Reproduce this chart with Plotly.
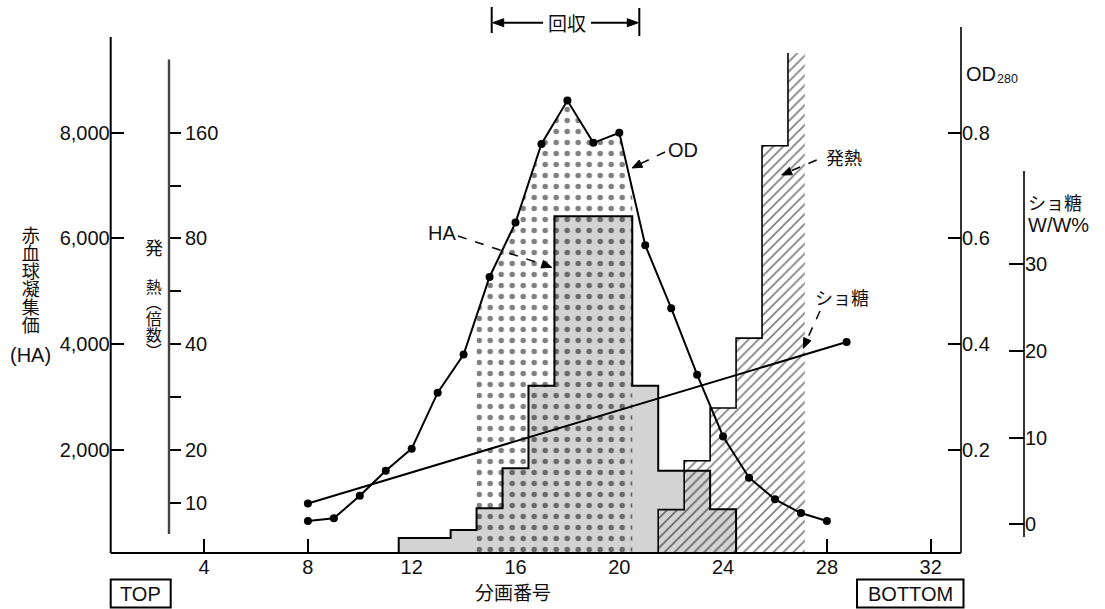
import math
import numpy as np
import plotly.graph_objects as go

W, H = 1105, 609

# ---------------- data ----------------
fractions_od = list(range(8, 29))
od280 = [0.065, 0.070, 0.113, 0.160, 0.202, 0.308, 0.380, 0.527, 0.630, 0.779,
         0.861, 0.781, 0.800, 0.587, 0.468, 0.342, 0.225, 0.147, 0.106, 0.080, 0.065]

fractions_ha = list(range(12, 25))
ha_titer = [330, 330, 480, 890, 1650, 3210, 6420, 6420, 6420, 3210, 1600, 1600, 870]

fractions_heat = [22, 23, 24, 25, 26, 27]
heat_fold = [13.5, 18.6, 26.3, 41.6, 147, 270]
heat_last_edge = 27.15          # last (off-scale) bin is cut short

sucrose_frac = [8, 28.76]
sucrose_pct = [2.4, 21.0]

recovery = [14.5, 20.5]         # pooled ("回収") fractions

x_ticks = [4, 8, 12, 16, 20, 24, 28, 32]
ha_ticks = [2000, 4000, 6000, 8000]
od_ticks = [0.2, 0.4, 0.6, 0.8]
suc_ticks = [0, 10, 20, 30]
sq2 = math.sqrt(2)
heat_tick_vals = [10 * sq2, 20, 40, 80, 160]
heat_tick_text = ['10', '20', '40', '80', '160']
heat_minor_vals = [20 * sq2, 40 * sq2, 80 * sq2]

LAT = "Liberation Sans, Arial, Helvetica, sans-serif"
CJK = "Noto Sans CJK JP, Noto Sans, sans-serif"
INK = "#111111"

HA_TITLE = "赤血球凝集価"
HEAT_TITLE = "熱（倍数）"


def px(x):
    return x / W


def py(y):
    return 1 - y / H


fig = go.Figure()

# HA step histogram (grey stipple)
ha_x = [fractions_ha[0] - 0.5]
ha_y = [0]
for f, v in zip(fractions_ha, ha_titer):
    ha_x += [f - 0.5, f + 0.5]
    ha_y += [v, v]
ha_x += [fractions_ha[-1] + 0.5]
ha_y += [0]
fig.add_trace(go.Scatter(x=ha_x, y=ha_y, mode='lines', yaxis='y',
                         line=dict(color='black', width=2),
                         fill='toself', fillcolor='#d3d3d3', hoverinfo='skip'))

# Heat (発熱) hatched steps
heat_left = [f - 0.5 for f in fractions_heat]
heat_right = heat_left[1:] + [heat_last_edge]
hx = [heat_left[0]]
hy = [1]
for l, r, v in zip(heat_left, heat_right, heat_fold):
    hx += [l, r]
    hy += [v, v]
hx += [heat_right[-1]]
hy += [1]
fig.add_trace(go.Scatter(x=hx, y=hy, mode='none', yaxis='y3', fill='toself',
                         fillcolor='rgba(0,0,0,0)',
                         fillpattern=dict(shape='/', fgcolor='black', size=7, solidity=0.24),
                         hoverinfo='skip'))
fig.add_trace(go.Scatter(x=hx[:-2], y=hy[:-2], mode='lines', yaxis='y3',
                         line=dict(color='black', width=1.6), hoverinfo='skip'))

# OD dotted region over the recovered fractions
rx = [recovery[0]] + [f for f in fractions_od if recovery[0] < f < recovery[1]] + [recovery[1]]
ry = list(np.interp(rx, fractions_od, od280))
fig.add_trace(go.Scatter(x=rx, y=ry, mode='none', yaxis='y2', fill='tozeroy',
                         fillcolor='rgba(0,0,0,0)',
                         fillpattern=dict(shape='.', fgcolor='black', size=11, solidity=0.2),
                         hoverinfo='skip'))

# sucrose gradient
fig.add_trace(go.Scatter(x=sucrose_frac, y=sucrose_pct, mode='lines+markers', yaxis='y4',
                         line=dict(color='black', width=2),
                         marker=dict(color='black', size=8)))

# OD280 curve
fig.add_trace(go.Scatter(x=fractions_od, y=od280, mode='lines+markers', yaxis='y2',
                         line=dict(color='black', width=2),
                         marker=dict(color='black', size=8)))

tickfont = dict(family=LAT, size=20, color=INK)
common = dict(showgrid=False, zeroline=False, showline=False, fixedrange=True,
              automargin=False, tickcolor='black', tickwidth=1.6, tickfont=tickfont)

shapes = []


def seg(x0, y0, x1, y1, w=1.5, dash=None, color='black'):
    d = dict(type='line', xref='paper', yref='paper', x0=px(x0), x1=px(x1), y0=py(y0), y1=py(y1),
             line=dict(color=color, width=w))
    if dash:
        d['line']['dash'] = dash
    shapes.append(d)


def box(x0, y0, x1, y1):
    shapes.append(dict(type='rect', xref='paper', yref='paper', x0=px(x0), x1=px(x1),
                       y0=py(y1), y1=py(y0), line=dict(color='black', width=2)))


def head(xt, yt, xs, ys, length=10, half=4):
    """filled triangular arrow head with its tip at (xt, yt), pointing away from (xs, ys)"""
    dx, dy = xt - xs, yt - ys
    n = math.hypot(dx, dy)
    ux, uy = dx / n, dy / n
    bx, by = xt - length * ux, yt - length * uy
    nx, ny = -uy, ux
    pts = [(xt, yt), (bx + half * nx, by + half * ny), (bx - half * nx, by - half * ny)]
    path = "M " + " L ".join(f"{px(a):.5f},{py(b):.5f}" for a, b in pts) + " Z"
    shapes.append(dict(type='path', xref='paper', yref='paper', path=path,
                       fillcolor='black', line=dict(color='black', width=1)))


# axis lines
seg(110.7, 36.9, 110.7, 553, w=2)
seg(110.7, 553, 961, 553, w=2)
seg(961, 27, 961, 553, w=1.6)
seg(169, 59.4, 169, 534, w=2.4, color='#444444')
seg(1024, 171, 1024, 537, w=1.6)
# boxes
box(110.7, 579.5, 170.7, 607.5)
box(857, 579.5, 963.5, 607.5)
# 回収 bracket
seg(491.7, 7, 491.7, 33, w=2)
seg(639.3, 8, 639.3, 36, w=2)
seg(500, 22.7, 543, 22.7, w=2)
head(492.7, 22.7, 543, 22.7, length=11, half=4)
seg(591, 22.7, 630, 22.7, w=2)
head(638.3, 22.7, 591, 22.7, length=11, half=4)
# dashed leaders with arrow heads
seg(458, 236, 543, 264.5, w=1.5, dash='dash')
head(551.7, 267.3, 458, 236)
seg(665, 152, 640, 164, w=1.5, dash='dash')
head(632, 168, 665, 152)
seg(816.7, 160, 790, 171.3, w=1.5, dash='dash')
head(781.7, 175, 816.7, 160)
seg(820, 311, 807, 339.5, w=1.5, dash='dash')
head(803.3, 348.3, 820, 311)

annotations = []


def text(x, y, s, size=20, family=LAT, xanchor='center', angle=0):
    annotations.append(dict(x=px(x), y=py(y), xref='paper', yref='paper', text=s,
                            showarrow=False, xanchor=xanchor, yanchor='middle',
                            textangle=angle, borderpad=0,
                            font=dict(family=family, size=size, color=INK)))


# vertical titles: drawn as real text, then switched to vertical writing mode in the page
text(30.8, 280, HA_TITLE, size=18, family=CJK)
text(30.8, 355, "(HA)", size=20)
text(153.8, 246.5, "発", size=18, family=CJK)
text(153.8, 319, HEAT_TITLE, size=16, family=CJK)

# labels on the plot
text(441.5, 233, "HA", size=20)
text(683, 150, "OD", size=20)
text(844, 157, "発熱", size=18, family=CJK)
text(842, 297, "ショ糖", size=18, family=CJK)

# right axis titles
text(965, 74, "OD", size=20, xanchor='left')
text(995.5, 79, "280", size=12.5, xanchor='left')
text(1027, 202, "ショ糖", size=18, family=CJK, xanchor='left')
text(1027, 225, "W/W%", size=20, xanchor='left')

# bottom
text(512.7, 591, "分画番号", size=19, family=CJK)
text(140.7, 594, "TOP", size=20)
text(910, 594, "BOTTOM", size=20)

# 回収 text
text(566.7, 22.7, "回収", size=19, family=CJK)

fig.update_layout(
    width=W, height=H, autosize=False,
    margin=dict(l=0, r=0, t=0, b=0, pad=0),
    paper_bgcolor='white', plot_bgcolor='rgba(0,0,0,0)',
    showlegend=False,
    xaxis=dict(domain=[110.7 / W, 961 / W], range=[0.4008, 33.168], tickvals=x_ticks,
               ticks='inside', ticklen=14, layer='below traces', anchor='y', **common),
    yaxis=dict(domain=[1 - 553 / H, 1 - 27 / H], range=[44, 10003], tickvals=ha_ticks,
               tickformat=',d', ticks='inside', ticklen=13, side='left', anchor='x', **common),
    yaxis2=dict(overlaying='y', side='right', anchor='x', range=[0.0044, 1.0003],
                tickvals=od_ticks, tickformat='.1f', ticks='inside', ticklen=13, **common),
    yaxis3=dict(overlaying='y', anchor='free', position=169 / W, side='right', type='log',
                range=[1.00664, 2.50565], tickvals=heat_tick_vals, ticktext=heat_tick_text,
                ticks='outside', ticklen=11,
                minor=dict(tickvals=heat_minor_vals, ticks='outside', ticklen=11,
                           tickcolor='black', tickwidth=1.6, showgrid=False),
                **common),
    yaxis4=dict(overlaying='y', anchor='free', position=1024 / W, side='right',
                range=[-3.31, 57.31], tickvals=suc_ticks, ticks='inside', ticklen=15, **common),
    shapes=shapes,
    annotations=annotations,
)

post_js = """
document.body.style.margin='0px';
document.body.style.padding='0px';
document.body.style.overflow='hidden';
(function(){
  var targets = [[%r, 30.8, 280], [%r, 153.8, 319]];
  var els = document.querySelectorAll('text.annotation-text');
  for (var i = 0; i < els.length; i++) {
    var el = els[i];
    var u = el.getAttribute('data-unformatted');
    for (var j = 0; j < targets.length; j++) {
      if (u === targets[j][0]) {
        el.setAttribute('writing-mode', 'vertical-rl');
        el.style.writingMode = 'vertical-rl';
        el.setAttribute('text-anchor', 'middle');
        var r = el.getBoundingClientRect();
        var dx = targets[j][1] - (r.left + r.width / 2);
        var dy = targets[j][2] - (r.top + r.height / 2);
        el.setAttribute('transform', 'translate(' + dx + ',' + dy + ')');
      }
    }
  }
})();
""" % (HA_TITLE, HEAT_TITLE)

fig.write_html("out.html", config={'displayModeBar': False}, post_script=post_js)
